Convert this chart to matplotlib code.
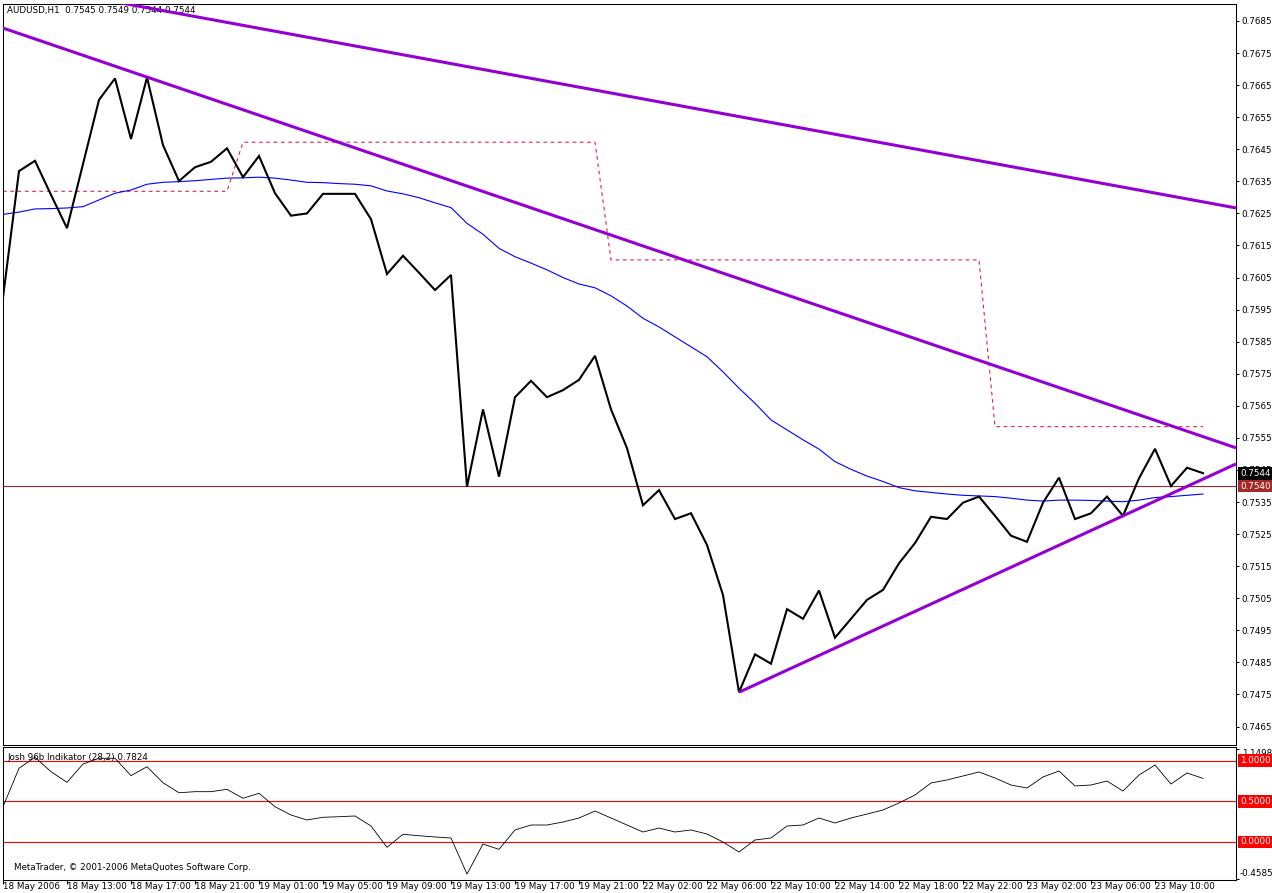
import matplotlib
matplotlib.use("Agg")
import matplotlib.pyplot as plt
import numpy as np

# ---------------- data ----------------
close = [0.75988, 0.76382, 0.76414, 0.76308, 0.76204, 0.76404, 0.76604, 0.76671, 0.76482, 0.76674,
         0.76463, 0.76351, 0.76394, 0.76411, 0.76453, 0.76363, 0.76429, 0.76313, 0.76243, 0.76250,
         0.76311, 0.76311, 0.76311, 0.76232, 0.76061, 0.76118, 0.76065, 0.76011, 0.76058, 0.75398,
         0.75639, 0.75429, 0.75677, 0.75728, 0.75677, 0.75699, 0.75731, 0.75806, 0.75639, 0.75518,
         0.75340, 0.75387, 0.75297, 0.75315, 0.75216, 0.75060, 0.74757, 0.74875, 0.74846, 0.75016,
         0.74986, 0.75074, 0.74927, 0.74986, 0.75045, 0.75076, 0.75159, 0.75222, 0.75304, 0.75297,
         0.75348, 0.75367, 0.75307, 0.75245, 0.75226, 0.75348, 0.75426, 0.75297, 0.75315, 0.75367,
         0.75307, 0.75424, 0.75516, 0.75400, 0.75457, 0.75440]

ma = [0.76247, 0.76254, 0.76264, 0.76265, 0.76267, 0.76271, 0.76292, 0.76313, 0.76323, 0.76341,
      0.76347, 0.76349, 0.76352, 0.76356, 0.76360, 0.76361, 0.76363, 0.76360, 0.76354, 0.76347,
      0.76346, 0.76343, 0.76341, 0.76336, 0.76320, 0.76311, 0.76299, 0.76283, 0.76268, 0.76219,
      0.76185, 0.76141, 0.76115, 0.76095, 0.76074, 0.76050, 0.76030, 0.76018, 0.75993, 0.75961,
      0.75923, 0.75896, 0.75865, 0.75834, 0.75803, 0.75756, 0.75705, 0.75658, 0.75606, 0.75575,
      0.75544, 0.75515, 0.75476, 0.75452, 0.75431, 0.75414, 0.75395, 0.75385, 0.75380, 0.75375,
      0.75371, 0.75369, 0.75367, 0.75362, 0.75356, 0.75353, 0.75356, 0.75356, 0.75355, 0.75353,
      0.75351, 0.75356, 0.75364, 0.75367, 0.75371, 0.75375]

indicator = [0.434, 0.907, 1.042, 0.865, 0.734, 0.959, 1.030, 1.030, 0.816, 0.926,
             0.729, 0.606, 0.619, 0.619, 0.648, 0.538, 0.599, 0.434, 0.332, 0.271,
             0.304, 0.311, 0.320, 0.197, -0.065, 0.095, 0.077, 0.062, 0.049, -0.394,
             -0.025, -0.090, 0.148, 0.209, 0.209, 0.246, 0.295, 0.381, 0.295, 0.209,
             0.123, 0.172, 0.123, 0.148, 0.098, 0.000, -0.123, 0.025, 0.049, 0.197,
             0.209, 0.295, 0.234, 0.295, 0.344, 0.394, 0.480, 0.578, 0.726, 0.763,
             0.812, 0.861, 0.787, 0.701, 0.664, 0.800, 0.873, 0.689, 0.701, 0.750,
             0.627, 0.824, 0.947, 0.713, 0.849, 0.7824]

pivot_levels = [0.76319, 0.76472, 0.76105, 0.75585]
pivot_bar_counts = [15, 23, 24, 14]

# trend lines: (bar1, price1, bar2, price2)
trend_upper = (0, 0.76974, 75, 0.76286)
trend_middle = (0, 0.76828, 75, 0.75554)
trend_lower = (46, 0.74757, 70, 0.75307)
hline_price = 0.7540
last_price = 0.7544

indicator_levels = [1.0, 0.5, 0.0]
indicator_max_label = 1.1498
indicator_min_label = -0.4585

price_ticks = [0.7465, 0.7475, 0.7485, 0.7495, 0.7505, 0.7515, 0.7525, 0.7535, 0.7545, 0.7555,
               0.7565, 0.7575, 0.7585, 0.7595, 0.7605, 0.7615, 0.7625, 0.7635, 0.7645, 0.7655,
               0.7665, 0.7675, 0.7685]

time_tick_bars = [0, 4, 8, 12, 16, 20, 24, 28, 32, 36, 40, 44, 48, 52, 56, 60, 64, 68, 72]
time_tick_labels = ["18 May 2006", "18 May 13:00", "18 May 17:00", "18 May 21:00",
                    "19 May 01:00", "19 May 05:00", "19 May 09:00", "19 May 13:00",
                    "19 May 17:00", "19 May 21:00", "22 May 02:00", "22 May 06:00",
                    "22 May 10:00", "22 May 14:00", "22 May 18:00", "22 May 22:00",
                    "23 May 02:00", "23 May 06:00", "23 May 10:00"]

title_text = "AUDUSD,H1  0.7545 0.7549 0.7544 0.7544"
indicator_text = "Josh 96b Indikator (28,2) 0.7824"
copyright_text = "MetaTrader, \u00a9 2001-2006 MetaQuotes Software Corp."

# ---------------- layout ----------------
W, H = 1272, 893
FS = 6.3
plt.rcParams["font.family"] = ["DejaVu Sans"]
fig = plt.figure(figsize=(W / 100, H / 100), dpi=100)
fig.patch.set_facecolor("white")


def rect(l, t, r, b):
    return [l / W, 1 - b / H, (r - l) / W, (b - t) / H]


ax = fig.add_axes(rect(3, 4, 1236, 745))
axi = fig.add_axes(rect(3, 747, 1236, 880))

bars = np.arange(len(close))
xlim = (0, 77.0625)

for a in (ax, axi):
    a.set_xlim(*xlim)
    for s in a.spines.values():
        s.set_linewidth(0.75)
        s.set_color("black")
    a.yaxis.tick_right()
    a.tick_params(axis="y", direction="out", length=2.5, width=0.75,
                  pad=1.5, labelsize=FS, colors="black")

ax.set_ylim(0.745924, 0.76903)
axi.set_ylim(-0.4674, 1.1685)

# ---------------- main panel ----------------
pivot = np.repeat(pivot_levels, pivot_bar_counts)
ax.plot(bars, pivot, color="#DC143C", lw=0.75, dashes=(3.5, 3.5), zorder=2)
ax.plot(bars, ma, color="#0000FF", lw=0.8, zorder=3)
ax.axhline(hline_price, color="#A02828", lw=0.8, zorder=2)
ax.plot(bars, close, color="black", lw=1.5, zorder=4, solid_joinstyle="miter")


def ray(tl, start=None):
    b1, p1, b2, p2 = tl
    slope = (p2 - p1) / (b2 - b1)
    x0 = xlim[0] if start is None else start
    xs = np.array([x0, xlim[1]])
    return xs, p1 + slope * (xs - b1)


for tl, st in ((trend_upper, None), (trend_middle, None), (trend_lower, trend_lower[0])):
    xs, ys = ray(tl, st)
    ax.plot(xs, ys, color="#9400D3", lw=2.2, zorder=5, solid_capstyle="butt")

ax.set_xticks([])
ax.set_yticks(price_ticks)
ax.set_yticklabels(["%.4f" % v for v in price_ticks])

ax.text(0.0035, 1 - 7 / 741, title_text, transform=ax.transAxes,
        fontsize=FS, va="center", ha="left", color="black")


def price_box(a, val, txt, fc):
    a.annotate(txt, xy=(1, val), xycoords=("axes fraction", "data"),
               xytext=(4, 0), textcoords="offset pixels", ha="left", va="center",
               fontsize=FS, color="white", zorder=10, annotation_clip=False,
               bbox=dict(boxstyle="square,pad=0.22", fc=fc, ec="none"))


price_box(ax, last_price, "%.4f" % last_price, "black")
price_box(ax, hline_price, "%.4f" % hline_price, "#A52A2A")

# ---------------- indicator panel ----------------
for lv in indicator_levels:
    axi.axhline(lv, color="#FF0000", lw=0.8, zorder=2)
axi.plot(bars, indicator, color="black", lw=0.6, zorder=3)

axi.set_yticks([indicator_max_label, indicator_min_label])
axi.set_yticklabels(["", ""])
axi.annotate("%.4f" % indicator_max_label, xy=(1, indicator_max_label),
             xycoords=("axes fraction", "data"), xytext=(6, -5), textcoords="offset pixels",
             ha="left", va="center", fontsize=FS, annotation_clip=False, zorder=5)
axi.annotate("%.4f" % indicator_min_label, xy=(1, indicator_min_label),
             xycoords=("axes fraction", "data"), xytext=(4, 6), textcoords="offset pixels",
             ha="left", va="center", fontsize=FS, annotation_clip=False)
for lv in indicator_levels:
    price_box(axi, lv, "%.4f" % lv, "#FF0000")

axi.set_xticks(time_tick_bars)
axi.set_xticklabels(time_tick_labels, ha="left")
axi.tick_params(axis="x", direction="out", length=3, width=0.75, pad=-1.5,
                labelsize=FS, colors="black")

axi.text(0.0035, 1 - 10 / 133, indicator_text, transform=axi.transAxes,
         fontsize=FS, va="center", ha="left")
axi.text(0.009, 1 - 120 / 133, copyright_text, transform=axi.transAxes,
         fontsize=FS, va="center", ha="left")

fig.savefig("out.png", dpi=100, facecolor="white")
